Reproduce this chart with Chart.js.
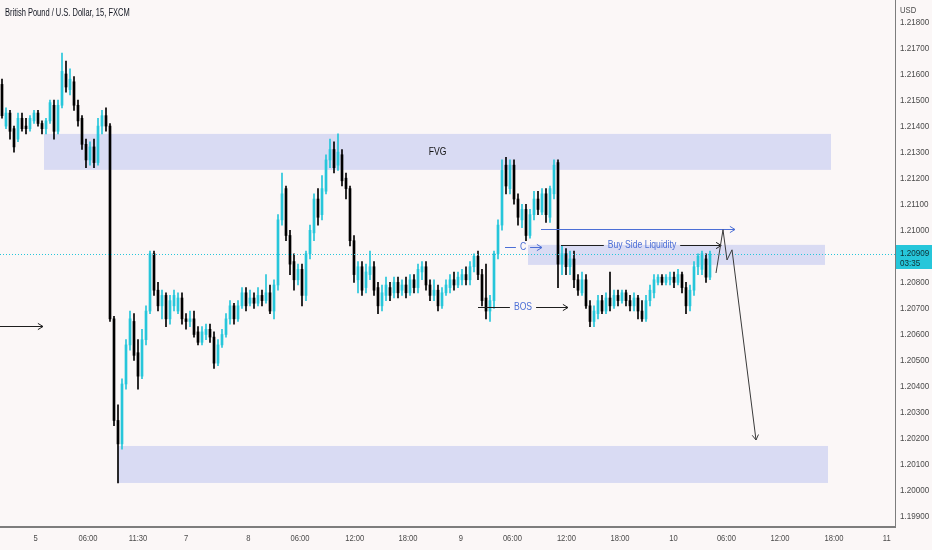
<!DOCTYPE html>
<html lang="en">
<head>
<meta charset="UTF-8">
<title>British Pound / U.S. Dollar, 15, FXCM</title>
<style>
  html, body { margin: 0; padding: 0; background: #fbf7f7; }
  #wrap { width: 932px; height: 550px; }
</style>
</head>
<body>
<div id="wrap"><canvas id="chart" width="932" height="550"></canvas></div>
<script src="https://cdn.jsdelivr.net/npm/chart.js@4.4.0/dist/chart.umd.min.js"></script>
<script>
// 15 min candles
var opens = [
  1.2156, 1.2140, 1.2145, 1.2139, 1.2135, 1.2143, 1.2140, 1.2139, 1.2142, 1.2145,
  1.2141, 1.2139, 1.2142, 1.2148, 1.2138, 1.2148, 1.2160, 1.2154, 1.2157, 1.2148,
  1.2143, 1.2133, 1.2127, 1.2132, 1.2126, 1.2140, 1.2144, 1.2140, 1.2066, 1.2027,
  1.2018, 1.2041, 1.2056, 1.2065, 1.2053, 1.2044, 1.2058, 1.2069, 1.2091, 1.2077,
  1.2071, 1.2075, 1.2066, 1.2071, 1.2069, 1.2074, 1.2066, 1.2065, 1.2066, 1.2061,
  1.2057, 1.2060, 1.2062, 1.2059, 1.2049, 1.2056, 1.2060, 1.2066, 1.2071, 1.2066,
  1.2071, 1.2076, 1.2072, 1.2074, 1.2072, 1.2075, 1.2073, 1.2076, 1.2069, 1.2079,
  1.2104, 1.2116, 1.2098, 1.2088, 1.2081, 1.2085, 1.2075, 1.2091, 1.2099, 1.2112,
  1.2106, 1.2115, 1.2127, 1.2131, 1.2125, 1.2129, 1.2120, 1.2116, 1.2096, 1.2081,
  1.2086, 1.2078, 1.2083, 1.2086, 1.2078, 1.2071, 1.2075, 1.2078, 1.2076, 1.2080,
  1.2077, 1.2079, 1.2076, 1.2081, 1.2078, 1.2084, 1.2086, 1.2079, 1.2075, 1.2077,
  1.2071, 1.2076, 1.2078, 1.2081, 1.2079, 1.2081, 1.2083, 1.2081, 1.2086, 1.2090,
  1.2083, 1.2074, 1.2069, 1.2073, 1.2091, 1.2102, 1.2125, 1.2116, 1.2125, 1.2112,
  1.2104, 1.2108, 1.2098, 1.2106, 1.2112, 1.2107, 1.2114, 1.2105, 1.2114, 1.2126,
  1.2087, 1.2091, 1.2086, 1.2089, 1.2081, 1.2076, 1.2081, 1.2071, 1.2065, 1.2068,
  1.2073, 1.2069, 1.2074, 1.2071, 1.2075, 1.2073, 1.2076, 1.2073, 1.2071, 1.2074,
  1.2069, 1.2066, 1.2073, 1.2076, 1.2080, 1.2082, 1.2080, 1.2081, 1.2082, 1.2080,
  1.2083, 1.2078, 1.2071, 1.2077, 1.2086, 1.2085, 1.2089, 1.2082
];
var highs = [
  1.2158, 1.2147, 1.2146, 1.2140, 1.2145, 1.2145, 1.2143, 1.2144, 1.2146, 1.2146,
  1.2142, 1.2143, 1.2150, 1.2150, 1.2150, 1.2168, 1.2165, 1.2162, 1.2159, 1.2150,
  1.2144, 1.2135, 1.2134, 1.2135, 1.2143, 1.2146, 1.2147, 1.2141, 1.2067, 1.2033,
  1.2043, 1.2058, 1.2069, 1.2068, 1.2058, 1.2062, 1.2071, 1.2092, 1.2092, 1.2080,
  1.2077, 1.2076, 1.2075, 1.2077, 1.2076, 1.2076, 1.2068, 1.2069, 1.2069, 1.2063,
  1.2063, 1.2064, 1.2064, 1.2061, 1.2058, 1.2062, 1.2068, 1.2073, 1.2072, 1.2073,
  1.2078, 1.2078, 1.2077, 1.2076, 1.2078, 1.2077, 1.2083, 1.2079, 1.2081, 1.2106,
  1.2122, 1.2117, 1.2100, 1.2091, 1.2087, 1.2087, 1.2092, 1.2102, 1.2114, 1.2116,
  1.2121, 1.2129, 1.2135, 1.2134, 1.2137, 1.2131, 1.2122, 1.2117, 1.2098, 1.2088,
  1.2088, 1.2087, 1.2092, 1.2088, 1.2080, 1.2079, 1.2082, 1.2080, 1.2082, 1.2082,
  1.2081, 1.2082, 1.2083, 1.2083, 1.2087, 1.2088, 1.2088, 1.2081, 1.2081, 1.2079,
  1.2078, 1.2081, 1.2083, 1.2084, 1.2084, 1.2085, 1.2086, 1.2088, 1.2091, 1.2092,
  1.2085, 1.2087, 1.2075, 1.2092, 1.2104, 1.2127, 1.2128, 1.2127, 1.2127, 1.2114,
  1.2110, 1.2110, 1.2108, 1.2115, 1.2115, 1.2116, 1.2116, 1.2117, 1.2127, 1.2127,
  1.2094, 1.2093, 1.2092, 1.2092, 1.2083, 1.2084, 1.2083, 1.2073, 1.2071, 1.2075,
  1.2075, 1.2076, 1.2084, 1.2077, 1.2077, 1.2077, 1.2077, 1.2075, 1.2076, 1.2075,
  1.2073, 1.2075, 1.2079, 1.2083, 1.2083, 1.2083, 1.2083, 1.2084, 1.2084, 1.2085,
  1.2084, 1.2080, 1.2079, 1.2088, 1.2091, 1.2092, 1.2091, 1.2092
];
var lows = [
  1.2143, 1.2139, 1.2135, 1.2130, 1.2134, 1.2138, 1.2137, 1.2138, 1.2141, 1.2140,
  1.2137, 1.2137, 1.2141, 1.2135, 1.2137, 1.2147, 1.2153, 1.2152, 1.2146, 1.2140,
  1.2131, 1.2124, 1.2125, 1.2124, 1.2125, 1.2137, 1.2138, 1.2065, 1.2025, 1.2003,
  1.2016, 1.2039, 1.2054, 1.2050, 1.2039, 1.2043, 1.2056, 1.2068, 1.2075, 1.2069,
  1.2066, 1.2063, 1.2064, 1.2069, 1.2068, 1.2064, 1.2062, 1.2063, 1.2059, 1.2056,
  1.2056, 1.2058, 1.2057, 1.2047, 1.2048, 1.2055, 1.2059, 1.2064, 1.2064, 1.2065,
  1.2070, 1.2069, 1.2071, 1.2070, 1.2071, 1.2071, 1.2072, 1.2068, 1.2066, 1.2077,
  1.2102, 1.2096, 1.2083, 1.2077, 1.2079, 1.2071, 1.2073, 1.2089, 1.2096, 1.2102,
  1.2104, 1.2114, 1.2124, 1.2122, 1.2123, 1.2117, 1.2112, 1.2094, 1.2080, 1.2076,
  1.2075, 1.2076, 1.2081, 1.2075, 1.2068, 1.2069, 1.2073, 1.2073, 1.2074, 1.2074,
  1.2075, 1.2074, 1.2075, 1.2076, 1.2076, 1.2081, 1.2077, 1.2073, 1.2073, 1.2069,
  1.2070, 1.2075, 1.2076, 1.2077, 1.2078, 1.2079, 1.2079, 1.2079, 1.2084, 1.2081,
  1.2071, 1.2066, 1.2065, 1.2070, 1.2089, 1.2100, 1.2114, 1.2114, 1.2110, 1.2102,
  1.2101, 1.2096, 1.2097, 1.2104, 1.2106, 1.2106, 1.2103, 1.2103, 1.2112, 1.2078,
  1.2083, 1.2083, 1.2083, 1.2078, 1.2075, 1.2075, 1.2070, 1.2063, 1.2063, 1.2066,
  1.2068, 1.2068, 1.2069, 1.2070, 1.2071, 1.2072, 1.2071, 1.2069, 1.2069, 1.2066,
  1.2065, 1.2065, 1.2071, 1.2074, 1.2079, 1.2079, 1.2079, 1.2079, 1.2078, 1.2079,
  1.2076, 1.2068, 1.2069, 1.2075, 1.2083, 1.2083, 1.2080, 1.2081
];
var closes = [
  1.2144, 1.2145, 1.2138, 1.2132, 1.2143, 1.2139, 1.2139, 1.2143, 1.2145, 1.2141,
  1.2139, 1.2142, 1.2149, 1.2138, 1.2148, 1.2161, 1.2155, 1.2158, 1.2148, 1.2142,
  1.2133, 1.2127, 1.2132, 1.2126, 1.2140, 1.2144, 1.2140, 1.2066, 1.2027, 1.2018,
  1.2041, 1.2056, 1.2066, 1.2052, 1.2044, 1.2058, 1.2069, 1.2091, 1.2077, 1.2071,
  1.2075, 1.2066, 1.2073, 1.2075, 1.2074, 1.2066, 1.2065, 1.2066, 1.2060, 1.2057,
  1.2061, 1.2062, 1.2059, 1.2049, 1.2056, 1.2060, 1.2066, 1.2071, 1.2066, 1.2071,
  1.2076, 1.2071, 1.2074, 1.2072, 1.2075, 1.2073, 1.2076, 1.2069, 1.2079, 1.2104,
  1.2114, 1.2098, 1.2087, 1.2081, 1.2085, 1.2075, 1.2091, 1.2100, 1.2112, 1.2105,
  1.2116, 1.2127, 1.2131, 1.2124, 1.2130, 1.2119, 1.2116, 1.2096, 1.2083, 1.2086,
  1.2077, 1.2084, 1.2086, 1.2077, 1.2071, 1.2076, 1.2079, 1.2075, 1.2080, 1.2076,
  1.2079, 1.2076, 1.2081, 1.2078, 1.2085, 1.2086, 1.2079, 1.2075, 1.2077, 1.2071,
  1.2076, 1.2079, 1.2081, 1.2079, 1.2082, 1.2083, 1.2081, 1.2086, 1.2090, 1.2083,
  1.2073, 1.2069, 1.2073, 1.2091, 1.2102, 1.2123, 1.2117, 1.2125, 1.2112, 1.2105,
  1.2108, 1.2098, 1.2106, 1.2112, 1.2108, 1.2114, 1.2106, 1.2116, 1.2125, 1.2087,
  1.2091, 1.2086, 1.2089, 1.2081, 1.2077, 1.2081, 1.2071, 1.2065, 1.2069, 1.2073,
  1.2069, 1.2074, 1.2071, 1.2075, 1.2073, 1.2076, 1.2073, 1.2071, 1.2074, 1.2069,
  1.2066, 1.2073, 1.2077, 1.2081, 1.2082, 1.2080, 1.2082, 1.2082, 1.2080, 1.2083,
  1.2078, 1.2071, 1.2077, 1.2086, 1.2090, 1.2091, 1.2082, 1.20909
];

var priceTicks = [1.199, 1.200, 1.201, 1.202, 1.203, 1.204, 1.205, 1.206, 1.207, 1.208,
  1.209, 1.210, 1.211, 1.212, 1.213, 1.214, 1.215, 1.216, 1.217, 1.218];
var timeTickPos = [8.4, 21.5, 34, 46, 61.6, 74.5, 88.2, 101.5, 114.7, 127.6,
  141.1, 154.5, 167.9, 181.1, 194.5, 208, 221.2];
var timeTickLabels = ['5', '06:00', '11:30', '7', '8', '06:00', '12:00', '18:00', '9', '06:00',
  '12:00', '18:00', '10', '06:00', '12:00', '18:00', '11'];

var lastPrice = 1.20909;
var countdown = '03:35';

// zones: [from bar, to bar, top price, bottom price]
var fvgZone = [10.5, 207.25, 1.21370, 1.21232];
var buySideZone = [131.5, 205.75, 1.20944, 1.20867];
var targetZone = [29, 206.5, 1.20172, 1.20030];

// drawn lines: [bar, price]
var projection = [[178.5, 1.20836], [180.25, 1.21002], [181.25, 1.20886], [182.5, 1.20925], [188.5, 1.20195]];
var highLine = [[134.75, 1.21005], [183.25, 1.21005]];
var bslLine = [[139.75, 1.20944], [179.8, 1.20944], 160];
var cLine = [[125.75, 1.20936], [135, 1.20936], 130.25];
var bosLine = [[119, 1.20706], [141.5, 1.20706], 130.25];
var leftArrow = [[-0.5, 1.20633], [10.25, 1.20633]];

var bgColor = '#fbf7f7';
var bullColor = '#26c6da';
var bearColor = '#000000';
var zoneColor = 'rgba(120, 140, 232, 0.26)';
var labelBlue = '#4c6fd6';
var inkColor = '#1e1e1e';
var axisText = '#4b4b4b';
var baseFont = '"Liberation Sans", Arial, sans-serif';

var candleColors = closes.map(function (c, i) {
  return c >= opens[i] ? bullColor : bearColor;
});
var bodies = closes.map(function (c, i) {
  return { x: i, y: [opens[i], c] };
});
var wicks = closes.map(function (c, i) {
  return { x: i, y: [lows[i], highs[i]] };
});

// the reference uses a narrow UI font, so squeeze the text a little
function narrowText(ctx, text, x, y, size, squeeze, align) {
  ctx.save();
  ctx.translate(x, y);
  ctx.scale(squeeze, 1);
  ctx.font = size + 'px ' + baseFont;
  ctx.textAlign = align || 'left';
  ctx.textBaseline = 'middle';
  ctx.fillText(text, 0, 0);
  ctx.restore();
}

function arrowHead(ctx, x1, y1, x2, y2, size) {
  var a = Math.atan2(y2 - y1, x2 - x1);
  ctx.beginPath();
  ctx.moveTo(x2 - size * Math.cos(a - 0.55), y2 - size * Math.sin(a - 0.55));
  ctx.lineTo(x2, y2);
  ctx.lineTo(x2 - size * Math.cos(a + 0.55), y2 - size * Math.sin(a + 0.55));
  ctx.stroke();
}

function hLine(ctx, x1, x2, y) {
  ctx.beginPath();
  ctx.moveTo(x1, y);
  ctx.lineTo(x2, y);
  ctx.stroke();
}

// horizontal line with a label sitting in a gap, arrow at the right end
function labelledLine(ctx, xs, ys, line, text, lineColor) {
  var x1 = xs.getPixelForValue(line[0][0]);
  var x2 = xs.getPixelForValue(line[1][0]);
  var y = Math.round(ys.getPixelForValue(line[0][1])) + 0.5;
  var xc = xs.getPixelForValue(line[2]);
  ctx.font = '10px ' + baseFont;
  var w = ctx.measureText(text).width * 0.86;
  ctx.strokeStyle = lineColor;
  hLine(ctx, x1, xc - w / 2 - 4, y);
  hLine(ctx, xc + w / 2 + 4, x2, y);
  arrowHead(ctx, x1, y, x2, y, 6);
  ctx.fillStyle = labelBlue;
  narrowText(ctx, text, xc, y, 10, 0.86, 'center');
}

var backgroundPlugin = {
  id: 'background',
  beforeDraw: function (chart) {
    var ctx = chart.ctx;
    ctx.save();
    ctx.fillStyle = bgColor;
    ctx.fillRect(0, 0, chart.width, chart.height);
    ctx.restore();
  }
};

var zonesPlugin = {
  id: 'zones',
  beforeDatasetsDraw: function (chart) {
    var ctx = chart.ctx, xs = chart.scales.x, ys = chart.scales.y;
    ctx.save();
    ctx.fillStyle = zoneColor;
    [fvgZone, buySideZone, targetZone].forEach(function (z) {
      var x1 = xs.getPixelForValue(z[0]), x2 = xs.getPixelForValue(z[1]);
      var y1 = ys.getPixelForValue(z[2]), y2 = ys.getPixelForValue(z[3]);
      ctx.fillRect(x1, y1, x2 - x1, y2 - y1);
    });
    ctx.fillStyle = '#111111';
    narrowText(ctx, 'FVG', xs.getPixelForValue((fvgZone[0] + fvgZone[1]) / 2),
      ys.getPixelForValue((fvgZone[2] + fvgZone[3]) / 2), 10, 0.86, 'center');
    ctx.restore();
  }
};

var drawingsPlugin = {
  id: 'drawings',
  afterDatasetsDraw: function (chart) {
    var ctx = chart.ctx, xs = chart.scales.x, ys = chart.scales.y, area = chart.chartArea;
    ctx.save();
    ctx.lineWidth = 1;

    // last price line
    var py = Math.round(ys.getPixelForValue(lastPrice)) + 0.5;
    ctx.strokeStyle = bullColor;
    ctx.setLineDash([1, 2]);
    hLine(ctx, area.left, area.right, py);
    ctx.setLineDash([]);

    // previous high, blue
    ctx.strokeStyle = labelBlue;
    var hx1 = xs.getPixelForValue(highLine[0][0]), hx2 = xs.getPixelForValue(highLine[1][0]);
    var hy = Math.round(ys.getPixelForValue(highLine[0][1])) + 0.5;
    hLine(ctx, hx1, hx2, hy);
    arrowHead(ctx, hx1, hy, hx2, hy, 6);

    labelledLine(ctx, xs, ys, bslLine, 'Buy Side Liquidity', inkColor);
    labelledLine(ctx, xs, ys, cLine, 'C', labelBlue);
    labelledLine(ctx, xs, ys, bosLine, 'BOS', inkColor);

    // arrow on the left edge
    ctx.strokeStyle = inkColor;
    var lx1 = xs.getPixelForValue(leftArrow[0][0]), lx2 = xs.getPixelForValue(leftArrow[1][0]);
    var ly = Math.round(ys.getPixelForValue(leftArrow[0][1])) + 0.5;
    hLine(ctx, lx1, lx2, ly);
    arrowHead(ctx, lx1, ly, lx2, ly, 6);

    // projected path
    ctx.strokeStyle = '#3a3a3a';
    ctx.beginPath();
    projection.forEach(function (p, i) {
      var x = xs.getPixelForValue(p[0]), y = ys.getPixelForValue(p[1]);
      if (i === 0) ctx.moveTo(x, y); else ctx.lineTo(x, y);
    });
    ctx.stroke();
    var n = projection.length;
    arrowHead(ctx,
      xs.getPixelForValue(projection[n - 2][0]), ys.getPixelForValue(projection[n - 2][1]),
      xs.getPixelForValue(projection[n - 1][0]), ys.getPixelForValue(projection[n - 1][1]), 6);
    ctx.restore();
  },
  afterDraw: function (chart) {
    var ctx = chart.ctx, xs = chart.scales.x, ys = chart.scales.y, area = chart.chartArea;
    ctx.save();

    // axis labels
    ctx.fillStyle = axisText;
    priceTicks.forEach(function (v) {
      narrowText(ctx, v.toFixed(5), area.right + 5, ys.getPixelForValue(v), 9.5, 0.85, 'left');
    });
    timeTickPos.forEach(function (v, i) {
      narrowText(ctx, timeTickLabels[i], xs.getPixelForValue(v), area.bottom + 11, 9.5, 0.8, 'center');
    });
    narrowText(ctx, 'USD', area.right + 5, 11, 9, 0.85, 'left');

    // price label on the axis
    var py = Math.round(ys.getPixelForValue(lastPrice));
    ctx.fillStyle = bullColor;
    ctx.fillRect(area.right + 1, py - 9, chart.width - area.right - 1, 24);
    ctx.fillStyle = '#0f2f35';
    narrowText(ctx, lastPrice.toFixed(5), area.right + 5, py - 1, 9.5, 0.85, 'left');
    narrowText(ctx, countdown, area.right + 5, py + 9, 9.5, 0.85, 'left');

    ctx.fillStyle = '#131722';
    narrowText(ctx, 'British Pound / U.S. Dollar, 15, FXCM', 5, 13, 10, 0.75, 'left');
    ctx.restore();
  }
};

var ctx = document.getElementById('chart').getContext('2d');
var chart = new Chart(ctx, {
  type: 'bar',
  data: {
    datasets: [{
      label: 'body',
      data: bodies,
      backgroundColor: candleColors,
      barThickness: 2,
      minBarLength: 1,
      borderWidth: 0,
      grouped: false
    }, {
      label: 'wick',
      data: wicks,
      backgroundColor: candleColors,
      barThickness: 1,
      borderWidth: 0,
      grouped: false
    }]
  },
  options: {
    responsive: false,
    devicePixelRatio: 1,
    animation: false,
    events: [],
    layout: { padding: 0 },
    plugins: {
      legend: { display: false },
      title: { display: false },
      tooltip: { enabled: false }
    },
    scales: {
      x: {
        type: 'linear',
        offset: false,
        min: -0.5,
        max: 223.25,
        grid: { display: false, drawTicks: false },
        border: { display: true, color: '#7d7d7d', width: 2 },
        afterBuildTicks: function (axis) {
          axis.ticks = timeTickPos.map(function (v) { return { value: v }; });
        },
        afterFit: function (axis) { axis.height = 23; },
        ticks: { display: false }
      },
      y: {
        position: 'right',
        min: 1.19861,
        max: 1.21884,
        grid: { display: false, drawTicks: false },
        border: { display: true, color: '#7d7d7d', width: 1 },
        afterBuildTicks: function (axis) {
          axis.ticks = priceTicks.map(function (v) { return { value: v }; });
        },
        afterFit: function (axis) { axis.width = 37; },
        ticks: { display: false }
      }
    }
  },
  plugins: [backgroundPlugin, zonesPlugin, drawingsPlugin]
});
</script>
</body>
</html>
